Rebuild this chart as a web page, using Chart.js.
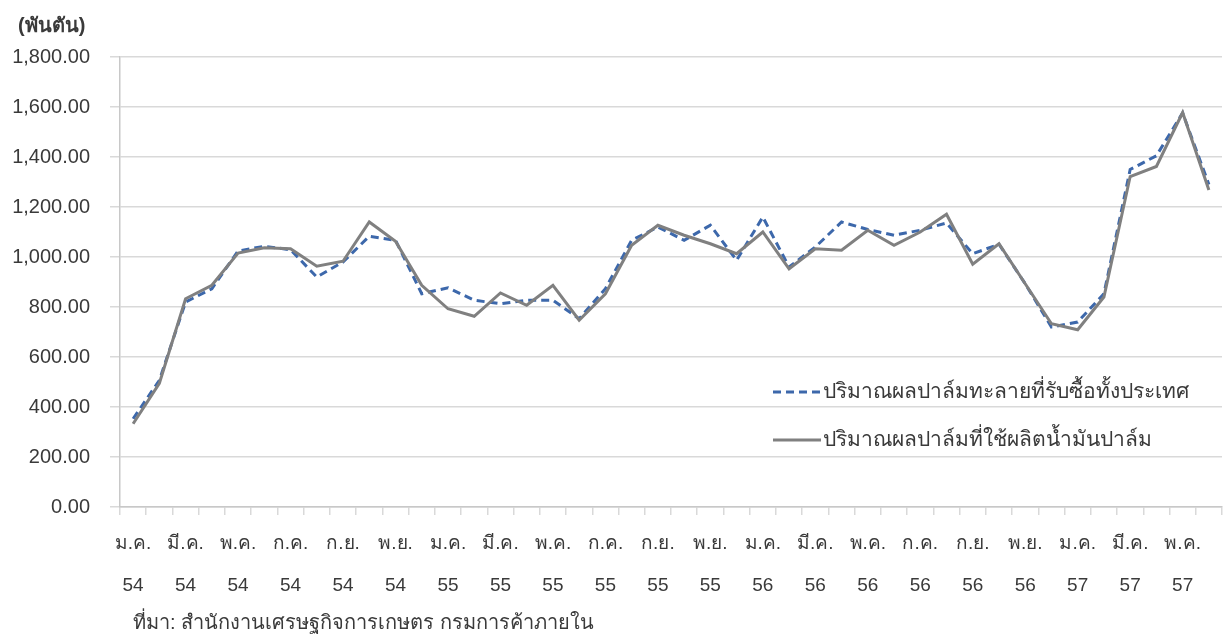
<!DOCTYPE html>
<html>
<head>
<meta charset="utf-8">
<script src="https://cdn.jsdelivr.net/npm/chart.js@4.4.1/dist/chart.umd.min.js"></script>
<style>
  html, body { margin: 0; padding: 0; background: #fff; }
  #wrap { position: relative; width: 1223px; height: 638px; }
</style>
</head>
<body>
<div id="wrap"><canvas id="chart-palm" width="1223" height="638"></canvas></div>
<script>
// ============================================================
// DATA
// ============================================================
const categories = [
  'ม.ค. 54', 'ก.พ. 54', 'มี.ค. 54', 'เม.ย. 54', 'พ.ค. 54', 'มิ.ย. 54', 'ก.ค. 54', 'ส.ค. 54', 'ก.ย. 54', 'ต.ค. 54', 'พ.ย. 54', 'ธ.ค. 54',
  'ม.ค. 55', 'ก.พ. 55', 'มี.ค. 55', 'เม.ย. 55', 'พ.ค. 55', 'มิ.ย. 55', 'ก.ค. 55', 'ส.ค. 55', 'ก.ย. 55', 'ต.ค. 55', 'พ.ย. 55', 'ธ.ค. 55',
  'ม.ค. 56', 'ก.พ. 56', 'มี.ค. 56', 'เม.ย. 56', 'พ.ค. 56', 'มิ.ย. 56', 'ก.ค. 56', 'ส.ค. 56', 'ก.ย. 56', 'ต.ค. 56', 'พ.ย. 56', 'ธ.ค. 56',
  'ม.ค. 57', 'ก.พ. 57', 'มี.ค. 57', 'เม.ย. 57', 'พ.ค. 57', 'มิ.ย. 57',
];

// ปริมาณผลปาล์มทะลายที่รับซื้อทั้งประเทศ (พันตัน)
const purchased = [
  353, 507, 820, 873, 1024, 1043, 1029, 920, 980, 1083, 1067, 853,
  877, 827, 813, 827, 827, 753, 873, 1067, 1120, 1067, 1127, 987,
  1160, 960, 1040, 1140, 1110, 1087, 1107, 1136, 1013, 1051, 893, 720,
  740, 853, 1350, 1405, 1576, 1290,
];

// ปริมาณผลปาล์มที่ใช้ผลิตน้ำมันปาล์ม (พันตัน)
const usedForOil = [
  333, 495, 833, 887, 1016, 1037, 1033, 963, 983, 1140, 1063, 887,
  793, 763, 856, 807, 887, 747, 853, 1047, 1127, 1087, 1053, 1013,
  1100, 953, 1033, 1027, 1107, 1047, 1100, 1171, 971, 1053, 893, 733,
  709, 840, 1322, 1362, 1578, 1268,
];

const seriesNames = ['ปริมาณผลปาล์มทะลายที่รับซื้อทั้งประเทศ', 'ปริมาณผลปาล์มที่ใช้ผลิตน้ำมันปาล์ม'];
const unitLabel = '(พันตัน)';
const sourceNote = 'ที่มา: สำนักงานเศรษฐกิจการเกษตร กรมการค้าภายใน';
const yTicks = [0, 200, 400, 600, 800, 1000, 1200, 1400, 1600, 1800];

// ============================================================
// STYLE
// ============================================================
const FONT = "'Liberation Sans', Arial, 'Noto Sans', sans-serif";
const TEXT = '#3a3a3a';
const GRID = '#d9d9d9';
const BLUE = '#3d68ab';
const GRAY = '#808080';

// legend drawn inside plot area, like the original sheet
const innerLegend = {
  id: 'innerLegend',
  afterDraw(chart) {
    const { ctx } = chart;
    const rows = [{ ds: 0, y: 392 }, { ds: 1, y: 440 }];
    ctx.save();
    ctx.font = '21px ' + FONT;
    ctx.textBaseline = 'middle';
    rows.forEach(r => {
      const ds = chart.data.datasets[r.ds];
      ctx.strokeStyle = ds.borderColor;
      ctx.lineWidth = 3;
      ctx.setLineDash(ds.borderDash || []);
      ctx.beginPath();
      ctx.moveTo(773, r.y);
      ctx.lineTo(821, r.y);
      ctx.stroke();
      ctx.setLineDash([]);
      ctx.fillStyle = TEXT;
      ctx.fillText(ds.label, 823, r.y);
    });
    // unit + source
    ctx.font = 'bold 20px ' + FONT;
    ctx.fillText(unitLabel, 18, 26);
    ctx.font = '20px ' + FONT;
    ctx.fillText(sourceNote, 133, 623);
    ctx.restore();
  },
};

new Chart(document.getElementById('chart-palm'), {
  type: 'line',
  data: {
    labels: categories,
    datasets: [
      {
        label: seriesNames[0],
        data: purchased,
        borderColor: BLUE,
        borderWidth: 3,
        borderDash: [8, 5],
        pointRadius: 0,
        tension: 0,
        order: 1,
      },
      {
        label: seriesNames[1],
        data: usedForOil,
        borderColor: GRAY,
        borderWidth: 3,
        pointRadius: 0,
        tension: 0,
        order: 0,
      },
    ],
  },
  options: {
    responsive: false,
    animation: false,
    layout: { padding: { top: 57, right: 1, left: 0, bottom: 0 } },
    plugins: {
      legend: { display: false },
      tooltip: { enabled: false },
    },
    scales: {
      x: {
        offset: true,
        grid: { offset: true, drawOnChartArea: false, tickLength: 8, color: GRID, lineWidth: 1.5 },
        border: { color: '#c8c8c8', width: 1.5 },
        afterFit: s => { s.height = 131; },
        ticks: {
          autoSkip: false,
          maxRotation: 0,
          padding: 8,
          color: TEXT,
          font: { family: FONT, size: 19, lineHeight: 2.2 },
          callback: (v, i) => (i % 2 === 0 ? categories[i].split(' ') : ''),
        },
      },
      y: {
        min: 0,
        max: 1800,
        afterFit: s => { s.width = 120; },
        afterBuildTicks: s => { s.ticks = yTicks.map(v => ({ value: v })); },
        grid: { color: GRID, lineWidth: 1.5, tickLength: 10 },
        border: { color: '#c8c8c8', width: 1.5 },
        ticks: {
          padding: 20,
          color: TEXT,
          font: { family: FONT, size: 20 },
          callback: v => v.toLocaleString('en-US', { minimumFractionDigits: 2, maximumFractionDigits: 2 }),
        },
      },
    },
  },
  plugins: [innerLegend],
});
</script>
</body>
</html>
